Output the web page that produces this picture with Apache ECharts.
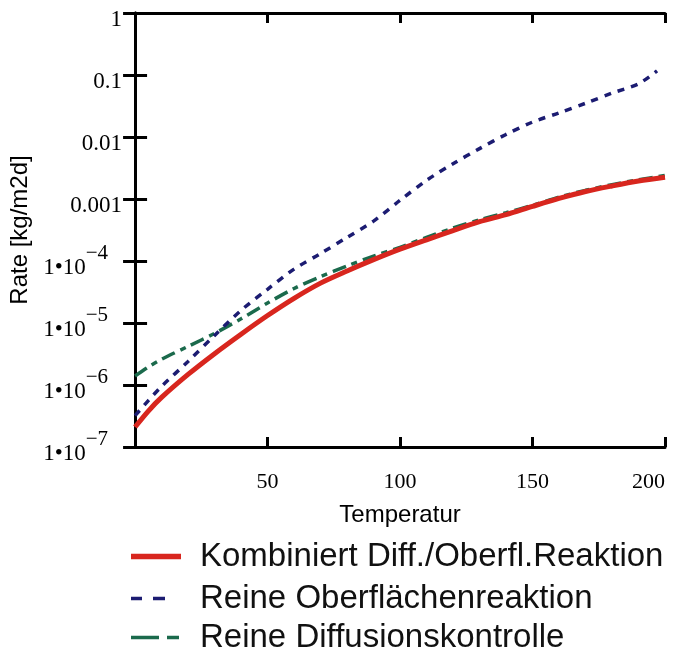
<!DOCTYPE html>
<html>
<head>
<meta charset="utf-8">
<script src="https://cdn.jsdelivr.net/npm/echarts@6/dist/echarts.min.js"></script>
<style>
  html, body { margin: 0; padding: 0; background: #fff; }
  #chart { width: 689px; height: 649px; }
</style>
</head>
<body>
<div id="chart"></div>
<script>
// ---- data ----
const temps = [0, 5, 10, 20, 30, 40, 50, 60, 70, 80, 90, 100, 110, 120, 130, 140, 150, 160, 170, 180, 190, 200];
const kombiniert = [2.1e-7, 3.8e-7, 6.3e-7, 1.48e-6, 3.2e-6, 6.6e-6, 1.32e-5, 2.5e-5, 4.4e-5, 6.9e-5, 1.05e-4, 1.55e-4,
  2.2e-4, 3.1e-4, 4.3e-4, 5.6e-4, 7.6e-4, 1.02e-3, 1.32e-3, 1.62e-3, 1.95e-3, 2.24e-3];
const diffusion = [1.4e-6, 1.95e-6, 2.6e-6, 4.2e-6, 6.8e-6, 1.17e-5, 2.1e-5, 3.6e-5, 5.6e-5, 8.3e-5, 1.2e-4, 1.66e-4,
  2.4e-4, 3.4e-4, 4.6e-4, 6.0e-4, 7.9e-4, 1.07e-3, 1.38e-3, 1.70e-3, 2.04e-3, 2.4e-3];
const oberflTemps = [0, 5, 10, 20, 30, 40, 50, 60, 70, 80, 90, 100, 110, 120, 130, 140, 150, 160, 170, 180, 190, 197];
const oberflaeche = [3.2e-7, 5.6e-7, 9.5e-7, 2.4e-6, 6.3e-6, 1.6e-5, 3.5e-5, 7.4e-5, 1.32e-4, 2.4e-4, 4.4e-4, 9.5e-4,
  2.0e-3, 3.7e-3, 6.5e-3, 1.1e-2, 1.74e-2, 2.45e-2, 3.5e-2, 5.1e-2, 7.2e-2, 0.117];
const seriesNames = ['Kombiniert Diff./Oberfl.Reaktion', 'Reine Oberflächenreaktion', 'Reine Diffusionskontrolle'];
const xTickLabels = ['', '50', '100', '150', '200'];
const yTickLabels = ['1', '0.1', '0.01', '0.001', '1•10^−4', '1•10^−5', '1•10^−6', '1•10^−7'];
const xName = 'Temperatur';
const yName = 'Rate [kg/m2d]';

const pairs = (xs, ys) => xs.map((x, i) => [x, ys[i]]);

function yLabel(v) {
  const e = Math.round(Math.log10(v));
  const t = yTickLabels[-e];
  if (t === undefined) return '';
  if (t.indexOf('^') >= 0) {
    const p = t.split('^');
    return '{h| }{b|' + p[0] + '}{s|' + p[1] + '}{g| }';
  }
  return '{h| }{b|' + t + '}';
}
function xLabel(v) {
  const i = Math.round(v / 50);
  return xTickLabels[i] || '';
}

const serif = 'Liberation Serif';
const sans = 'Liberation Sans';
const axisLineStyle = { color: '#000', width: 3 };
const colors = ['#d8261e', '#1c1c72', '#1b6a4c'];
const dashes = ['solid', [7, 7], [14, 6, 6, 6]];
// legend swatches: solid bar, "- -", "— -"
const legendIcons = [
  'path://M0,0H50V1H0Z',
  'path://M0,0H11V1H0Z M22,0H34V1H22Z',
  'path://M0,0H28V1H0Z M36,0H48V1H36Z'
];
const legendIconWidths = [50, 34, 48];
const legendIconHeights = [5.5, 3.5, 3.5];
const widths = [5, 3.5, 3.5];
const legendTops = [535, 577, 616];

const chart = echarts.init(document.getElementById('chart'), null, { renderer: 'canvas' });
chart.setOption({
  backgroundColor: '#fff',
  animation: false,
  grid: { left: 130, right: 24, top: 13, bottom: 202, containLabel: false },
  xAxis: [{
    type: 'value', min: 0, max: 200, interval: 50, position: 'bottom',
    axisLine: { show: true, lineStyle: axisLineStyle },
    axisTick: { show: true, inside: true, length: 10, lineStyle: axisLineStyle },
    splitLine: { show: false },
    axisLabel: { formatter: xLabel, fontFamily: serif, fontSize: 22, color: '#000', margin: 24, alignMaxLabel: 'right' },
    name: xName, nameLocation: 'middle', nameGap: 56,
    nameTextStyle: { fontFamily: sans, fontSize: 24, color: '#000' }
  }, {
    type: 'value', min: 0, max: 200, interval: 50, position: 'top',
    axisLine: { show: true, lineStyle: axisLineStyle },
    axisTick: { show: true, inside: true, length: 10, lineStyle: axisLineStyle },
    splitLine: { show: false },
    axisLabel: { show: false }
  }],
  yAxis: [{
    type: 'log', logBase: 10, min: 1e-7, max: 1, interval: 1, splitNumber: 7, position: 'left',
    axisLine: { show: true, lineStyle: axisLineStyle },
    axisTick: { show: true, inside: true, length: 12, lineStyle: axisLineStyle },
    splitLine: { show: false },
    minorTick: { show: false },
    axisLabel: {
      formatter: yLabel, margin: 13, color: '#000',
      rich: {
        h: { fontSize: 1, lineHeight: 37, width: 0 },
        b: { fontFamily: serif, fontSize: 23, lineHeight: 23, verticalAlign: 'bottom', color: '#000' },
        s: { fontFamily: serif, fontSize: 21, lineHeight: 21, verticalAlign: 'top', color: '#000' },
        g: { fontSize: 1, width: 14 }
      }
    },
    name: yName, nameLocation: 'middle', nameGap: 95, nameRotate: 90,
    nameTextStyle: { fontFamily: sans, fontSize: 24, color: '#000' }
  }, {
    type: 'log', logBase: 10, min: 1e-7, max: 1, interval: 1, splitNumber: 7, position: 'right',
    axisLine: { show: true, lineStyle: axisLineStyle },
    axisTick: { show: true, inside: true, length: 12, lineStyle: axisLineStyle },
    splitLine: { show: false },
    axisLabel: { show: false }
  }],
  legend: seriesNames.map((n, i) => ({
    orient: 'vertical', left: 126, top: legendTops[i],
    icon: legendIcons[i], symbolKeepAspect: false,
    itemWidth: legendIconWidths[i], itemHeight: legendIconHeights[i],
    itemStyle: { color: colors[i], borderWidth: 0 },
    textStyle: { fontFamily: sans, fontSize: 33, color: '#111', padding: [0, 0, 0, 14 + 50 - legendIconWidths[i]] },
    data: [n]
  })),
  series: seriesNames.map((n, i) => ({
    name: n, type: 'line', xAxisIndex: 0, yAxisIndex: 0,
    data: i === 0 ? pairs(temps, kombiniert) : i === 1 ? pairs(oberflTemps, oberflaeche) : pairs(temps, diffusion),
    smooth: 0.3, showSymbol: false, symbol: 'none', z: [3, 4, 2][i],
    lineStyle: { color: colors[i], width: widths[i], type: dashes[i] },
    itemStyle: { color: colors[i] }
  }))
});
</script>
</body>
</html>
